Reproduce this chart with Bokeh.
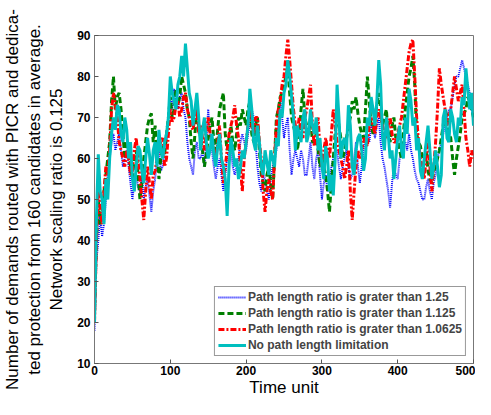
from bokeh.plotting import figure
from bokeh.models import Range1d, Legend, LegendItem, FixedTicker
from bokeh.embed import file_html
from bokeh.resources import INLINE

# time axis: whole steps (t = 0, 5, ..., 500) and half steps (t = 2.5, 7.5, ..., 497.5)
t_main = [i * 5 for i in range(101)]
t_half = [i * 5 + 2.5 for i in range(100)]

# values read at t = 0, 5, ..., 500
blue_main = [18, 40, 41, 50, 60, 66, 64, 62, 60, 58,
             50, 56, 52, 50, 55, 47, 55, 62, 58, 64,
             75, 77, 72, 76, 70, 60, 56, 64, 60, 58,
             72, 62, 55, 60, 52, 60, 62, 56, 60, 66,
             62, 68, 70, 58, 52, 55, 50, 58, 62, 75,
             65, 70, 56, 62, 58, 60, 56, 64, 55, 62,
             50, 56, 54, 60, 62, 55, 60, 58, 56, 64,
             54, 62, 66, 68, 65, 70, 60, 55, 48, 58,
             55, 62, 64, 66, 60, 55, 52, 50, 55, 50,
             56, 62, 66, 70, 72, 78, 80, 84, 80, 76,
             70]
# values read at t = 2.5, 7.5, ..., 497.5
blue_half = [35, 46, 44, 56, 64, 62, 66, 58, 62, 54,
             54, 53, 56, 53, 51, 52, 60, 57, 62, 70,
             72, 74, 75, 72, 64, 58, 62, 60, 62, 64,
             66, 58, 58, 56, 56, 62, 58, 58, 64, 64,
             66, 72, 64, 54, 56, 52, 55, 60, 68, 70,
             68, 62, 60, 60, 62, 56, 60, 58, 60, 56,
             54, 52, 58, 62, 58, 58, 62, 55, 60, 58,
             58, 66, 64, 68, 68, 64, 58, 52, 54, 56,
             60, 64, 62, 62, 57, 54, 50, 53, 52, 54,
             60, 64, 68, 72, 75, 80, 82, 82, 78, 72]

green_main = [22, 50, 46, 56, 64, 80, 75, 72, 60, 64,
              55, 62, 50, 60, 68, 71, 68, 55, 63, 66,
              75, 72, 73, 80, 76, 70, 60, 72, 65, 58,
              65, 70, 62, 72, 76, 62, 68, 62, 70, 72,
              68, 74, 64, 70, 56, 52, 58, 50, 70, 75,
              78, 82, 70, 66, 65, 77, 68, 70, 64, 62,
              60, 56, 47, 60, 72, 65, 62, 68, 74, 75,
              68, 65, 80, 68, 70, 76, 68, 72, 64, 70,
              66, 60, 72, 80, 85, 66, 63, 60, 57, 54,
              58, 62, 68, 70, 65, 56, 63, 70, 72, 74,
              70]
green_half = [40, 44, 52, 60, 74, 72, 76, 66, 64, 58,
              60, 56, 54, 64, 70, 64, 62, 60, 61, 70,
              70, 77, 75, 78, 72, 64, 66, 68, 62, 61,
              68, 64, 67, 74, 66, 65, 64, 66, 68, 70,
              72, 66, 68, 62, 54, 56, 54, 60, 72, 76,
              80, 76, 68, 62, 72, 70, 66, 64, 66, 58,
              58, 52, 54, 66, 68, 60, 65, 70, 72, 71,
              66, 72, 74, 66, 73, 72, 70, 66, 68, 65,
              62, 66, 76, 82, 78, 64, 60, 62, 55, 57,
              60, 65, 72, 66, 60, 60, 66, 71, 75, 72]

red_main = [20, 52, 44, 58, 62, 76, 70, 62, 58, 60,
            57, 65, 55, 45, 58, 50, 57, 62, 65, 60,
            72, 70, 74, 72, 76, 70, 67, 72, 68, 62,
            70, 65, 60, 68, 54, 62, 68, 73, 65, 52,
            64, 72, 66, 70, 60, 47, 55, 50, 68, 74,
            80, 89, 78, 68, 70, 65, 72, 78, 63, 70,
            58, 65, 60, 72, 64, 60, 55, 62, 45, 58,
            60, 65, 63, 70, 66, 72, 68, 65, 70, 64,
            66, 70, 78, 86, 89, 70, 60, 55, 66, 52,
            64, 82, 75, 68, 72, 80, 74, 78, 65, 58,
            60]
red_half = [40, 48, 52, 56, 72, 73, 64, 60, 62, 56,
            62, 60, 50, 52, 54, 56, 60, 64, 58, 66,
            69, 73, 70, 75, 72, 68, 70, 66, 65, 67,
            66, 62, 64, 60, 58, 66, 70, 68, 58, 60,
            68, 68, 70, 64, 52, 52, 52, 60, 72, 78,
            85, 84, 72, 66, 68, 70, 75, 68, 66, 62,
            62, 62, 66, 68, 62, 58, 58, 52, 52, 62,
            62, 64, 68, 68, 70, 70, 66, 68, 66, 64,
            68, 74, 82, 88, 80, 64, 58, 60, 58, 58,
            72, 78, 72, 70, 76, 77, 76, 72, 62, 62]

cyan_main = [20, 61, 50, 55, 60, 70, 73, 66, 70, 60,
             55, 58, 62, 54, 65, 56, 64, 67, 60, 66,
             80, 74, 78, 85, 88, 76, 68, 76, 62, 70,
             60, 66, 58, 66, 58, 46, 65, 58, 55, 62,
             64, 77, 64, 68, 58, 62, 56, 60, 65, 72,
             76, 84, 75, 62, 66, 70, 64, 72, 66, 62,
             58, 63, 52, 51, 78, 60, 65, 73, 58, 62,
             66, 57, 70, 75, 68, 84, 65, 70, 60, 55,
             65, 62, 70, 77, 68, 62, 57, 60, 68, 55,
             62, 53, 70, 65, 72, 66, 70, 75, 82, 72,
             68]
cyan_half = [45, 52, 44, 50, 66, 67, 72, 64, 67, 64,
             52, 63, 57, 60, 61, 62, 58, 62, 64, 70,
             76, 72, 80, 80, 82, 74, 72, 70, 67, 64,
             62, 61, 63, 60, 55, 58, 62, 60, 58, 60,
             68, 72, 62, 64, 56, 59, 62, 58, 63, 70,
             78, 80, 70, 68, 64, 72, 66, 68, 70, 65,
             55, 60, 56, 60, 70, 64, 62, 68, 56, 65,
             62, 60, 68, 72, 74, 78, 62, 66, 62, 60,
             68, 60, 66, 74, 70, 65, 55, 64, 62, 58,
             58, 56, 72, 64, 70, 64, 68, 73, 77, 76]

labels = ["Path length ratio is grater than 1.25",
          "Path length ratio is grater than 1.125",
          "Path length ratio is grater than 1.0625",
          "No path length limitation"]
x_ticks = [0, 100, 200, 300, 400, 500]
y_ticks = [10, 20, 30, 40, 50, 60, 70, 80, 90]


def merge(main, half):
    xs, ys = [], []
    for i in range(len(half)):
        xs += [t_main[i], t_half[i]]
        ys += [main[i], half[i]]
    xs.append(t_main[-1])
    ys.append(main[-1])
    return xs, ys


FONT = "Liberation Sans"

p = figure(width=475, height=399, output_backend="svg", toolbar_location=None,
           x_range=Range1d(0, 500), y_range=Range1d(10, 90),
           min_border_left=84, min_border_right=2, min_border_top=35, min_border_bottom=20)
p.background_fill_color = "white"
p.border_fill_color = "white"
p.outline_line_color = "#777777"
p.outline_line_width = 1
p.grid.visible = False

for ax in (p.xaxis[0], p.yaxis[0]):
    ax.major_label_text_font = FONT
    ax.major_label_text_font_style = "bold"
    ax.major_label_text_font_size = "12px"
    ax.major_label_text_color = "black"
    ax.major_tick_in = 4
    ax.major_tick_out = 0
    ax.minor_tick_in = 0
    ax.minor_tick_out = 0
    ax.axis_line_color = "#777777"
    ax.major_tick_line_color = "#555555"
    ax.axis_label_text_font = FONT
    ax.axis_label_text_font_style = "normal"
    ax.axis_label_text_color = "black"

p.xaxis.ticker = FixedTicker(ticks=x_ticks)
p.yaxis.ticker = FixedTicker(ticks=y_ticks)
p.xaxis.axis_label = "Time unit"
p.xaxis.axis_label_text_font_size = "17px"
p.xaxis.axis_label_standoff = 0
p.xaxis.major_label_standoff = 2
p.yaxis.major_label_standoff = 4
p.yaxis.axis_label = ("Number of demands routed with PICR and dedica-\n"
                      "ted protection from 160 candidates in average.\n"
                      "Network scaling ratio is 0.125")
p.yaxis.axis_label_text_font_size = "17px"
p.yaxis.axis_label_standoff = 8
p.yaxis.axis_label_text_line_height = 1.15

bx, by = merge(blue_main, blue_half)
gx, gy = merge(green_main, green_half)
rx, ry = merge(red_main, red_half)
cx, cy = merge(cyan_main, cyan_half)

r_blue = p.line(bx, by, line_color="#0000ff", line_width=2, line_dash="1 1")
r_green = p.line(gx, gy, line_color="#007f00", line_width=3, line_dash="6 3")
r_red = p.line(rx, ry, line_color="#ff0000", line_width=3, line_dash="6 2 2 2")
r_cyan = p.line(cx, cy, line_color="#00bfbf", line_width=3)

legend = Legend(items=[LegendItem(label=labels[0], renderers=[r_blue]),
                       LegendItem(label=labels[1], renderers=[r_green]),
                       LegendItem(label=labels[2], renderers=[r_red]),
                       LegendItem(label=labels[3], renderers=[r_cyan])],
                location="bottom_right")
legend.label_text_font = FONT
legend.label_text_font_style = "bold"
legend.label_text_font_size = "12px"
legend.label_height = 14
legend.glyph_height = 14
legend.glyph_width = 28
legend.spacing = 2
legend.padding = 3
legend.margin = 7
legend.label_standoff = 2
legend.border_line_color = "#333333"
legend.border_line_width = 1
legend.background_fill_alpha = 1
p.add_layout(legend)

open("out.html", "w").write(file_html(p, INLINE))
